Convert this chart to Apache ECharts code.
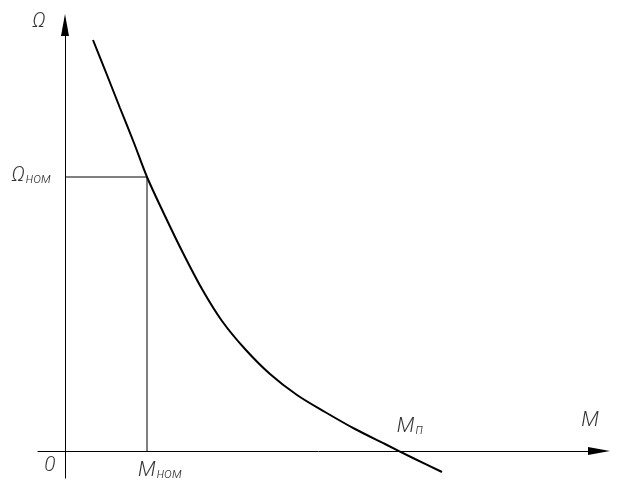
<!DOCTYPE html>
<html>
<head>
<meta charset="utf-8">
<script src="https://cdn.jsdelivr.net/npm/echarts@6/dist/echarts.min.js"></script>
<style>
html,body{margin:0;padding:0;background:#fff;}
#chart{width:619px;height:487px;}
</style>
</head>
<body>
<div id="chart"></div>
<script>
// Mechanical characteristic Ω(M), values in drawing units
const torqueValues = [28, 42, 55, 69, 82, 100, 118, 137, 157, 180, 205, 232, 260, 290, 320, 350, 377];
const speedValues  = [411, 376, 343, 308, 274, 235, 198, 162, 130, 102, 77, 56, 39, 22, 7, -8, -21];
const nominalTorque = 82;   // M_ном
const nominalSpeed = 274;   // Ω_ном
const startTorque = 333;    // M_п
const axisLabelX = 'M';
const axisLabelY = 'Ω';

const curve = torqueValues.map((m, i) => [m, speedValues[i]]);
const guide = [[0, nominalSpeed], [nominalTorque, nominalSpeed], [nominalTorque, 0]];

const font = 'Roboto';
const rich = {
  a: {fontSize: 21, fontStyle: 'italic', fontWeight: 300, fontFamily: font, color: '#000',
      lineHeight: 22, verticalAlign: 'bottom'},
  b: {fontSize: 14, fontStyle: 'italic', fontWeight: 300, fontFamily: font, color: '#000',
      lineHeight: 22, verticalAlign: 'bottom', padding: [0, 0, 0, 1]}
};
function lbl(text, offset, align) {
  return {show: true, position: 'inside', formatter: text, offset: offset,
          align: align || 'center', verticalAlign: 'middle', rich: rich};
}

const chart = echarts.init(document.getElementById('chart'), null, {renderer: 'canvas'});
chart.setOption({
  animation: false,
  backgroundColor: '#fff',
  grid: {left: 38, right: 20, top: 25, bottom: 9},
  xAxis: {
    type: 'value', min: -27, max: 534,
    splitLine: {show: false}, axisTick: {show: false}, axisLabel: {show: false},
    axisLine: {show: true, onZero: true, lineStyle: {color: '#000', width: 1},
               symbol: ['none', 'triangle'], symbolSize: [8, 22]}
  },
  yAxis: {
    type: 'value', min: -27, max: 426,
    splitLine: {show: false}, axisTick: {show: false}, axisLabel: {show: false},
    axisLine: {show: true, onZero: true, lineStyle: {color: '#000', width: 1},
               symbol: ['none', 'triangle'], symbolSize: [8, 22]}
  },
  series: [
    {type: 'line', data: curve, smooth: 0.3, showSymbol: false, symbol: 'none',
     lineStyle: {color: '#000', width: 2}},
    {type: 'line', data: guide, showSymbol: false, symbol: 'none',
     lineStyle: {color: '#000', width: 1}},
    {type: 'scatter', symbolSize: 0, silent: true,
     data: [
       {value: [0, 426], label: lbl('{a|' + axisLabelY + '}', [-26, -4])},
       {value: [0, nominalSpeed], label: lbl('{a|Ω}{b|ном}', [-14, -2], 'right')},
       {value: [0, 0], label: lbl('{a|0}', [-15, 14])},
       {value: [nominalTorque, 0], label: lbl('{a|M}{b|ном}', [13, 19])},
       {value: [startTorque, 0], label: lbl('{a|M}{b|п}', [12, -25])},
       {value: [534, 0], label: lbl('{a|' + axisLabelX + '}', [-9, -31])}
     ]}
  ]
});
</script>
</body>
</html>
